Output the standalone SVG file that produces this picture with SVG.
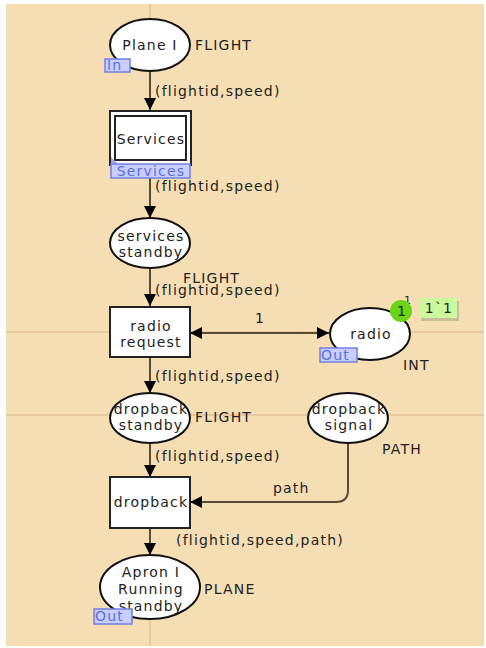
<svg xmlns="http://www.w3.org/2000/svg" width="486" height="648" viewBox="0 0 486 648">
<defs>
<style>
text{font-family:"DejaVu Sans",Verdana,sans-serif;font-size:14px;letter-spacing:1.2px;fill:#222}
.c{text-anchor:middle}
.pl{fill:#fff;stroke:#111;stroke-width:2}
.tr{fill:#fff;stroke:#222;stroke-width:2}
.arc{fill:none;stroke:#5a4a38;stroke-width:2}
.grid{stroke:#e6c99c;stroke-width:2}
.tag{fill:#c8ceff;stroke:#7080e0;stroke-width:1.5}
.tagt{fill:#5a6fe0}
</style>
<marker id="ah" viewBox="0 0 12 12" refX="12" refY="6" markerWidth="12" markerHeight="12" markerUnits="userSpaceOnUse" orient="auto-start-reverse">
<path d="M0,0 L12,6 L0,12 Z" fill="#000"/>
</marker>
</defs>
<rect x="0" y="0" width="486" height="648" fill="#fff"/>
<rect x="6" y="4" width="478" height="642" fill="#f5deb3"/>
<g id="grid">
<line class="grid" x1="6" y1="332" x2="484" y2="332"/>
<line class="grid" x1="6" y1="415" x2="484" y2="415"/>
<line class="grid" x1="150" y1="4" x2="150" y2="646"/>
</g>
<g id="connectors">
<line class="arc" x1="150" y1="72" x2="150" y2="110" marker-end="url(#ah)"/>
<text x="155" y="96">(flightid,speed)</text>
<line class="arc" x1="150" y1="178" x2="150" y2="218" marker-end="url(#ah)"/>
<text x="155" y="191">(flightid,speed)</text>
<line class="arc" x1="150" y1="268" x2="150" y2="306" marker-end="url(#ah)"/>
<text x="155" y="295">(flightid,speed)</text>
<line class="arc" x1="190" y1="333" x2="329" y2="333" marker-start="url(#ah)" marker-end="url(#ah)"/>
<text x="255" y="323">1</text>
<line class="arc" x1="150" y1="357" x2="150" y2="393" marker-end="url(#ah)"/>
<text x="155" y="381">(flightid,speed)</text>
<line class="arc" x1="150" y1="443" x2="150" y2="477" marker-end="url(#ah)"/>
<text x="155" y="461">(flightid,speed)</text>
<path class="arc" d="M348,443 L348,490 Q348,502 336,502 L190,502" marker-end="url(#ah)"/>
<text x="273" y="493">path</text>
<line class="arc" x1="150" y1="528" x2="150" y2="555" marker-end="url(#ah)"/>
<text x="176" y="545">(flightid,speed,path)</text>
</g>
<g id="plane">
<ellipse class="pl" cx="150" cy="45" rx="40" ry="26"/>
<text class="c" x="150" y="50">Plane I</text>
<text x="195" y="50">FLIGHT</text>
<rect class="tag" x="105" y="59" width="25" height="13"/>
<text class="tagt" x="107" y="70">In</text>
</g>
<g id="services">
<rect class="tr" x="110" y="111" width="81" height="54"/>
<rect class="tr" x="115" y="116" width="71" height="44"/>
<text class="c" x="151" y="144">Services</text>
<path d="M111,165 L111,157 L119,165 Z" fill="#a0a8e8"/>
<rect class="tag" x="111" y="164" width="79" height="14"/>
<text class="tagt c" x="151" y="176">Services</text>
</g>
<g id="services_standby">
<ellipse class="pl" cx="150" cy="243" rx="40" ry="25"/>
<text class="c" x="151" y="241">services</text>
<text class="c" x="151" y="257">standby</text>
<text x="183" y="283">FLIGHT</text>
</g>
<g id="radio_request">
<rect class="tr" x="110" y="307" width="80" height="50"/>
<text class="c" x="151" y="331">radio</text>
<text class="c" x="151" y="347">request</text>
</g>
<g id="radio">
<ellipse class="pl" cx="370" cy="334" rx="40" ry="26"/>
<text class="c" x="371" y="339">radio</text>
<text x="403" y="370">INT</text>
<rect class="tag" x="320" y="348" width="37" height="14"/>
<text class="tagt" x="321" y="360">Out</text>
<text x="404" y="304" style="font-size:11px">1</text>
<circle cx="401" cy="311" r="11" fill="#6ad416"/>
<text class="c" x="402" y="316">1</text>
<rect x="421" y="301" width="38" height="20" fill="#9c9c7a" opacity="0.5"/>
<rect x="419" y="298" width="38" height="20" fill="#ccf99c"/>
<text class="c" x="439" y="313">1`1</text>
</g>
<g id="dropback_standby">
<ellipse class="pl" cx="150" cy="418" rx="40" ry="25"/>
<text class="c" x="151" y="414">dropback</text>
<text class="c" x="151" y="430">standby</text>
<text x="195" y="422">FLIGHT</text>
</g>
<g id="dropback_signal">
<ellipse class="pl" cx="348" cy="418" rx="40" ry="25"/>
<text class="c" x="349" y="414">dropback</text>
<text class="c" x="349" y="430">signal</text>
<text x="382" y="454">PATH</text>
</g>
<g id="dropback">
<rect class="tr" x="110" y="477" width="80" height="51"/>
<text class="c" x="151" y="507">dropback</text>
</g>
<g id="apron">
<ellipse class="pl" cx="150" cy="587" rx="50" ry="32"/>
<text class="c" x="151" y="577">Apron I</text>
<text class="c" x="151" y="594">Running</text>
<text class="c" x="151" y="611">standby</text>
<text x="204" y="594">PLANE</text>
<rect class="tag" x="94" y="609" width="38" height="15"/>
<text class="tagt" x="95" y="621">Out</text>
</g>
</svg>
